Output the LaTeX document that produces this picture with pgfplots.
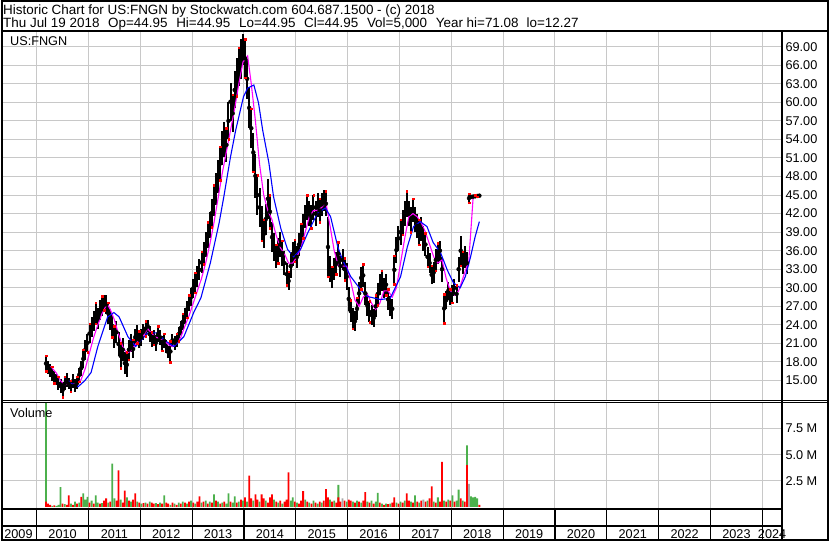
\documentclass[border=0pt]{standalone}
\usepackage{pgfplots}
\usepackage{pgfplotstable}
\usepackage{fontspec}
\setmainfont{Liberation Sans}
\pgfplotsset{compat=1.18}
\definecolor{gridgray}{HTML}{C8C8C8}
\definecolor{volgreen}{HTML}{4CB04C}
\definecolor{volgray}{HTML}{A8A8A8}
\definecolor{magline}{HTML}{FF00FF}
\definecolor{blueline}{HTML}{0000FF}
\newcommand\cf{\fontsize{12.7bp}{14bp}\selectfont}

\pgfplotstableread{
x lo hi
2010.18 16.5 19.0
2010.22 16.0 18.2
2010.26 15.6 17.6
2010.30 15.0 17.2
2010.34 14.6 16.6
2010.38 14.2 16.0
2010.42 13.4 15.6
2010.46 13.0 15.2
2010.50 12.3 14.6
2010.54 13.4 15.6
2010.58 14.0 16.2
2010.62 13.6 15.4
2010.66 13.2 15.0
2010.70 13.8 16.0
2010.74 13.2 15.2
2010.78 13.6 15.6
2010.82 14.8 17.0
2010.86 15.8 18.2
2010.90 17.0 20.0
2010.94 18.4 21.6
2010.98 19.6 22.6
2011.02 21.0 24.2
2011.06 22.0 25.2
2011.10 23.0 26.2
2011.14 24.2 27.6
2011.18 23.4 26.8
2011.22 24.8 28.0
2011.26 25.4 28.6
2011.30 26.4 28.9
2011.34 25.8 28.8
2011.38 24.2 27.6
2011.42 23.2 26.6
2011.46 22.0 25.6
2011.50 20.2 23.8
2011.54 21.0 24.6
2011.58 19.0 22.8
2011.62 17.0 21.0
2011.66 18.2 21.8
2011.70 16.0 19.6
2011.74 15.5 19.6
2011.78 18.4 21.6
2011.82 19.6 22.6
2011.86 18.6 21.6
2011.90 20.6 23.4
2011.94 21.0 24.0
2011.98 20.2 23.0
2012.02 20.6 23.4
2012.06 21.6 24.2
2012.10 22.2 24.6
2012.14 22.8 24.8
2012.18 21.2 23.8
2012.22 20.4 22.8
2012.26 20.8 23.2
2012.30 19.8 22.4
2012.34 21.2 23.8
2012.38 20.8 23.2
2012.42 19.8 22.2
2012.46 20.2 22.6
2012.50 19.4 21.6
2012.54 18.6 20.6
2012.58 18.0 21.4
2012.62 20.4 22.6
2012.66 20.0 22.2
2012.70 20.4 22.6
2012.74 21.4 23.6
2012.78 22.4 24.6
2012.82 23.2 25.8
2012.86 24.2 26.8
2012.90 25.2 27.8
2012.94 26.2 28.8
2012.98 27.0 30.0
2013.02 28.4 31.4
2013.06 29.2 32.4
2013.10 30.2 33.6
2013.14 31.2 34.6
2013.18 32.4 35.8
2013.22 33.8 37.4
2013.26 35.0 39.0
2013.30 36.4 40.6
2013.34 38.0 42.2
2013.38 39.8 44.4
2013.42 41.6 46.6
2013.46 43.4 48.6
2013.50 45.4 50.6
2013.54 47.4 52.8
2013.58 49.8 55.4
2013.62 51.2 56.8
2013.66 50.4 55.8
2013.70 54.0 60.0
2013.74 57.0 63.2
2013.78 55.2 61.2
2013.82 59.0 65.0
2013.86 61.0 67.2
2013.90 62.6 68.8
2013.94 63.8 70.2
2013.98 66.0 71.1
2014.02 64.0 70.2
2014.06 60.6 67.0
2014.10 55.8 62.4
2014.14 52.6 59.0
2014.18 48.8 55.0
2014.22 44.6 51.6
2014.26 41.8 48.2
2014.30 39.8 46.2
2014.34 37.6 43.2
2014.38 36.4 41.0
2014.42 38.6 43.6
2014.46 41.2 47.6
2014.50 39.6 45.0
2014.54 35.8 40.6
2014.58 34.4 38.8
2014.62 33.2 37.0
2014.66 34.0 38.0
2014.70 35.0 39.0
2014.74 33.6 37.6
2014.78 32.0 36.0
2014.82 30.4 34.0
2014.86 29.6 32.6
2014.90 31.6 35.4
2014.94 33.6 37.4
2014.98 34.2 37.8
2015.02 33.2 36.8
2015.06 35.2 38.8
2015.10 36.6 40.4
2015.14 38.0 42.0
2015.18 39.6 43.4
2015.22 41.0 45.0
2015.26 40.0 44.0
2015.30 39.6 43.4
2015.34 41.0 45.0
2015.38 40.0 44.0
2015.42 41.4 45.4
2015.46 40.6 44.4
2015.50 41.6 45.4
2015.54 42.4 45.8
2015.58 41.6 45.6
2015.62 31.8 41.4
2015.66 31.0 35.2
2015.70 30.0 33.4
2015.74 31.2 34.8
2015.78 32.2 35.8
2015.82 33.6 37.4
2015.86 31.8 35.2
2015.90 32.8 36.2
2015.94 31.2 34.8
2015.98 29.6 34.0
2016.02 26.2 30.2
2016.06 24.4 28.0
2016.10 23.4 26.8
2016.14 23.0 26.2
2016.18 24.8 28.4
2016.22 27.2 31.0
2016.26 29.8 33.4
2016.30 30.2 33.8
2016.34 27.2 31.0
2016.38 25.4 28.8
2016.42 24.4 27.8
2016.46 24.0 27.2
2016.50 23.6 26.6
2016.54 25.2 28.8
2016.58 27.2 30.8
2016.62 28.8 32.2
2016.66 29.4 32.8
2016.70 28.4 31.6
2016.74 28.8 32.2
2016.78 26.4 29.8
2016.82 25.4 28.6
2016.86 25.0 28.2
2016.90 30.6 35.2
2016.94 34.0 38.2
2016.98 36.0 40.0
2017.02 37.0 41.0
2017.06 38.6 42.6
2017.10 40.0 44.0
2017.14 41.4 45.6
2017.18 40.0 44.0
2017.22 39.0 43.0
2017.26 40.6 44.4
2017.30 39.0 43.0
2017.34 38.0 42.0
2017.38 37.0 41.0
2017.42 37.6 41.4
2017.46 36.0 40.0
2017.50 35.2 38.8
2017.54 33.4 36.6
2017.58 32.4 35.6
2017.62 30.6 33.6
2017.66 30.8 34.2
2017.70 32.8 36.2
2017.74 33.8 37.2
2017.78 34.4 37.6
2017.82 31.0 35.0
2017.86 24.3 29.0
2017.90 26.6 29.4
2017.94 28.0 31.0
2017.98 27.2 29.8
2018.02 27.6 30.4
2018.06 28.6 31.4
2018.10 27.6 30.4
2018.14 31.0 35.0
2018.18 33.6 38.4
2018.22 32.2 35.8
2018.26 33.2 36.8
2018.30 32.2 35.8
2018.34 43.8 45.2
2018.38 44.4 45.0
2018.42 44.5 45.0
2018.46 44.6 45.0
2018.50 44.7 45.0
2018.54 44.8 45.0
}\pricedata

\begin{document}
\begin{tikzpicture}
\begin{scope}[x=1bp,y=1bp]
\path[use as bounding box] (0,0) rectangle (830,543);
\fill[white] (0,0) rectangle (830,543);
\end{scope}

% ---------- price panel ----------
\begin{axis}[at={(2bp,143bp)}, anchor=south west, scale only axis,
  width=780bp, height=369bp,
  xmin=2009.35067, xmax=2024.37958, ymin=11.93, ymax=71.54,
  axis line style={draw=none}, tick style={draw=none},
  xtick={2010,...,2024}, xticklabels={},
  ytick={15,18,...,69},
  grid=major, major grid style={draw=gridgray, line width=1bp},
  yticklabel pos=right,
  yticklabel style={font=\cf, text=black, anchor=west},
  y tick label style={/pgf/number format/.cd, fixed, fixed zerofill, precision=2, assume math mode=true}]
\addplot[only marks, mark=none, forget plot,
  error bars/.cd, y dir=both, y explicit, error mark=none,
  error bar style={draw=black, line width=2bp, solid}]
  table[x=x, y expr={(\thisrow{lo}+\thisrow{hi})/2}, y error expr={(\thisrow{hi}-\thisrow{lo})/2}] \pricedata;
\addplot[only marks, mark=square*, mark size=0.75bp, red, each nth point=3, filter discard warning=false] table[x=x, y=hi] \pricedata;
\addplot[only marks, mark=square*, mark size=0.75bp, red, each nth point=4, filter discard warning=false] table[x=x, y=lo] \pricedata;
\addplot[magline, line width=1.1bp] coordinates {
(2010.27,17.3) (2010.38,16.2) (2010.46,15.0) (2010.54,14.3) (2010.62,14.5) (2010.70,14.6) (2010.78,14.4)
(2010.86,15.2) (2010.94,17.0) (2011.02,19.5) (2011.10,22.0) (2011.18,24.0) (2011.26,25.8) (2011.36,27.4)
(2011.42,26.5) (2011.50,24.8) (2011.58,22.5) (2011.66,20.5) (2011.74,19.4) (2011.82,19.8) (2011.90,20.8)
(2011.98,21.6) (2012.06,22.2) (2012.14,23.4) (2012.22,22.6) (2012.30,22.0) (2012.38,21.8) (2012.46,21.5)
(2012.54,20.8) (2012.62,20.5) (2012.70,21.0) (2012.78,22.0) (2012.86,23.8) (2012.94,25.5) (2013.02,27.5)
(2013.10,29.5) (2013.18,31.5) (2013.26,34.0) (2013.34,37.0) (2013.42,40.5) (2013.50,44.5) (2013.58,48.5)
(2013.66,52.0) (2013.74,55.5) (2013.82,59.0) (2013.90,63.0) (2013.98,66.5) (2014.07,67.5) (2014.14,63.0)
(2014.22,57.0) (2014.30,50.0) (2014.38,45.0) (2014.46,42.5) (2014.54,41.0) (2014.62,38.5) (2014.70,36.5)
(2014.78,35.5) (2014.86,34.0) (2014.94,34.0) (2015.02,35.0) (2015.10,36.5) (2015.18,39.0) (2015.26,41.5)
(2015.34,42.5) (2015.42,42.5) (2015.50,43.0) (2015.58,43.8) (2015.66,40.0) (2015.74,36.0) (2015.82,33.5)
(2015.90,33.5) (2015.98,33.5) (2016.06,31.0) (2016.14,28.0) (2016.22,27.0) (2016.30,28.5) (2016.38,29.0)
(2016.46,27.5) (2016.54,26.5) (2016.62,27.5) (2016.70,29.5) (2016.78,29.5) (2016.86,28.5) (2016.94,30.0)
(2017.02,34.0) (2017.10,38.0) (2017.18,41.5) (2017.26,42.0) (2017.34,41.5) (2017.42,40.5) (2017.50,39.0)
(2017.58,37.0) (2017.66,35.0) (2017.74,34.0) (2017.82,34.5) (2017.90,31.5) (2017.98,29.5) (2018.06,28.8)
(2018.14,29.5) (2018.22,31.5) (2018.30,33.5) (2018.33,33.6) (2018.42,44.6) (2018.47,44.8) (2018.56,44.9)};
\addplot[blueline, line width=1.1bp] coordinates {
(2010.53,15.5) (2010.67,14.6) (2010.80,14.0) (2010.93,15.0) (2011.05,16.3) (2011.18,20.5) (2011.37,25.3)
(2011.49,26.0) (2011.59,25.3) (2011.76,22.1) (2011.91,20.5) (2012.14,22.7) (2012.34,22.7) (2012.45,21.6)
(2012.65,20.5) (2012.84,22.1) (2013.03,26.0) (2013.17,28.4) (2013.35,34.0) (2013.52,40.5) (2013.61,44.7)
(2013.74,51.2) (2013.84,55.5) (2013.99,60.9) (2014.07,62.3) (2014.19,62.8) (2014.28,59.9) (2014.36,55.5)
(2014.48,50.2) (2014.57,44.7) (2014.71,39.6) (2014.84,36.2) (2014.96,35.0) (2015.09,36.2) (2015.23,38.9)
(2015.42,42.1) (2015.57,42.9) (2015.67,41.5) (2015.81,36.6) (2015.90,34.5) (2016.06,31.8) (2016.25,29.7)
(2016.38,28.6) (2016.63,28.1) (2016.82,28.3) (2017.02,31.8) (2017.15,36.6) (2017.27,39.9) (2017.40,40.7)
(2017.53,39.9) (2017.65,37.3) (2017.79,35.7) (2017.92,32.9) (2018.04,30.8) (2018.17,30.0) (2018.27,31.8)
(2018.37,35.0) (2018.46,38.3) (2018.54,40.7)};
\end{axis}

% ---------- volume panel ----------
\begin{axis}[at={(2bp,34.5bp)}, anchor=south west, scale only axis,
  width=780bp, height=105.5bp,
  xmin=2009.35067, xmax=2024.37958, ymin=-0.1, ymax=10,
  axis line style={draw=none}, tick style={draw=none},
  xtick={2010,...,2024}, xticklabels={},
  ytick={2.5,5,7.5}, yticklabels={2.5 M,5.0 M,7.5 M},
  grid=major, major grid style={draw=gridgray, line width=1bp},
  yticklabel pos=right,
  yticklabel style={font=\cf, text=black, anchor=west}]
\addplot[ybar, bar shift=0pt, bar width=1.8bp, fill=volgreen, draw=none] coordinates {
(2010.18,10.5) (2010.30,0.1) (2010.38,0.1) (2010.42,0.2) (2010.46,1.9) (2010.54,0.25) (2010.66,0.3)
(2010.74,0.5) (2010.82,0.4) (2010.90,1.3) (2010.94,0.7) (2010.98,0.95) (2011.06,0.6) (2011.14,1.1)
(2011.18,0.4) (2011.26,0.35) (2011.38,0.4) (2011.46,4.15) (2011.50,0.8) (2011.62,0.7) (2011.74,0.9)
(2011.82,0.5) (2011.94,0.5) (2012.02,0.3) (2012.10,0.4) (2012.18,0.5) (2012.30,0.35) (2012.38,0.4)
(2012.46,1.1) (2012.58,0.2) (2012.66,0.3) (2012.74,0.4) (2012.82,0.5) (2012.90,0.3) (2012.98,0.6)
(2013.06,0.3) (2013.18,0.4) (2013.26,0.6) (2013.34,0.5) (2013.42,1.2) (2013.50,0.5) (2013.58,0.4)
(2013.66,0.3) (2013.70,1.3) (2013.78,0.4) (2013.82,1.0) (2013.90,0.5) (2013.98,0.6) (2014.06,0.5)
(2014.18,0.6) (2014.30,0.5) (2014.42,0.6) (2014.58,0.7) (2014.66,0.4) (2014.74,0.3) (2014.90,0.6)
(2014.94,0.9) (2015.02,0.4) (2015.18,0.7) (2015.26,0.4) (2015.34,0.6) (2015.42,0.3) (2015.50,0.4)
(2015.66,0.7) (2015.74,0.6) (2015.82,2.1) (2015.98,0.5) (2016.10,0.5) (2016.18,0.6) (2016.26,0.4)
(2016.38,0.5) (2016.46,0.6) (2016.54,0.5) (2016.58,1.35) (2016.66,0.3) (2016.74,0.3) (2016.82,0.3)
(2016.94,0.4) (2017.02,0.5) (2017.10,0.6) (2017.22,0.5) (2017.30,1.1) (2017.38,0.4) (2017.54,0.6)
(2017.66,0.5) (2017.74,0.9) (2017.86,0.6) (2017.94,0.7) (2018.02,1.1) (2018.10,0.6) (2018.14,1.65)
(2018.22,0.6) (2018.30,5.9) (2018.38,1.0) (2018.42,0.9) (2018.46,0.95) (2018.50,0.8)};
\addplot[ybar, bar shift=0pt, bar width=1.8bp, fill=red, draw=none] coordinates {
(2010.18,0.5) (2010.22,0.3) (2010.26,0.2) (2010.34,0.15) (2010.50,0.3) (2010.58,0.2) (2010.62,1.1)
(2010.70,0.2) (2010.78,0.3) (2010.86,0.95) (2011.02,0.4) (2011.10,0.3) (2011.22,0.3) (2011.30,0.6)
(2011.34,0.8) (2011.42,0.5) (2011.54,0.6) (2011.58,3.5) (2011.66,0.4) (2011.70,1.55) (2011.78,0.6)
(2011.86,0.7) (2011.90,1.3) (2011.98,0.4) (2012.06,0.35) (2012.14,0.3) (2012.22,0.4) (2012.26,0.3)
(2012.34,0.25) (2012.42,0.3) (2012.50,0.4) (2012.54,0.3) (2012.62,0.4) (2012.70,0.2) (2012.78,0.3)
(2012.86,0.4) (2012.94,0.5) (2013.02,0.4) (2013.10,0.5) (2013.14,1.0) (2013.22,0.5) (2013.30,0.3)
(2013.38,0.4) (2013.46,0.6) (2013.54,0.3) (2013.62,0.5) (2013.74,0.5) (2013.86,0.4) (2013.94,0.7)
(2014.02,0.9) (2014.10,3.0) (2014.14,0.8) (2014.22,1.2) (2014.26,0.7) (2014.34,1.2) (2014.38,0.8)
(2014.46,0.4) (2014.50,0.9) (2014.54,1.2) (2014.62,0.5) (2014.70,0.6) (2014.78,0.5) (2014.82,0.7)
(2014.86,3.3) (2014.98,0.5) (2015.06,0.3) (2015.10,0.6) (2015.14,1.5) (2015.22,0.5) (2015.30,0.3)
(2015.38,0.4) (2015.46,0.5) (2015.54,0.6) (2015.58,1.7) (2015.62,0.9) (2015.70,0.5) (2015.78,0.4)
(2015.82,0.9) (2015.86,0.5) (2015.94,0.6) (2016.02,0.7) (2016.06,0.6) (2016.14,0.4) (2016.22,0.5)
(2016.30,0.6) (2016.34,1.4) (2016.42,0.4) (2016.50,0.3) (2016.62,0.4) (2016.70,0.2) (2016.78,0.25)
(2016.86,0.4) (2016.90,0.9) (2016.98,0.3) (2017.06,0.4) (2017.14,1.3) (2017.18,0.6) (2017.26,0.4)
(2017.34,0.5) (2017.42,0.6) (2017.50,0.5) (2017.58,0.8) (2017.62,1.95) (2017.70,0.4) (2017.78,0.5)
(2017.82,4.3) (2017.90,0.5) (2017.98,0.6) (2018.06,0.5) (2018.18,0.8) (2018.26,0.5) (2018.30,4.0)
(2018.54,0.2)};
\addplot[ybar, bar shift=0pt, bar width=1.8bp, fill=volgray, draw=none] coordinates {
(2015.90,0.8) (2017.46,0.7) (2018.34,2.2)};
\end{axis}

% ---------- frame and labels ----------
\begin{scope}[x=1bp,y=1bp]
\node[anchor=base west, inner sep=0pt] at (2,528) {\fontsize{13.45bp}{15bp}\selectfont Historic Chart for US:FNGN by Stockwatch.com 604.687.1500 - (c) 2018};
\node[anchor=base west, inner sep=0pt] at (2,515.3) {\fontsize{13.45bp}{15bp}\selectfont Thu Jul 19 2018\hspace*{8.7bp}Op=44.95\hspace*{8.7bp}Hi=44.95\hspace*{8.7bp}Lo=44.95\hspace*{8.7bp}Cl=44.95\hspace*{8.7bp}Vol=5,000\hspace*{8.7bp}Year hi=71.08\hspace*{8bp}lo=12.27};
\node[anchor=base west, inner sep=0pt, font=\cf] at (9,497) {US:FNGN};
\node[anchor=base west, inner sep=0pt, font=\cf] at (9,125) {Volume};

\draw[line width=2bp] (1,2) rectangle (828,542);
\draw[line width=2bp] (0,512) -- (829,512);
\draw[line width=2bp] (781.7,512) -- (781.7,2);
\draw[line width=1bp] (0,142.2) -- (829,142.2);
\draw[line width=1.5bp] (0,140.2) -- (829,140.2);
\draw[line width=2bp] (0,33.7) -- (781.7,33.7);
\draw[line width=2bp] (0,16.3) -- (781.7,16.3);
\foreach \k in {0,...,14} {
  \draw[line width=1.2bp] ({35.7+51.9*\k},33.7) -- ({35.7+51.9*\k},2);
}
\node[font=\cf, inner sep=0pt] at (17.5,8.5) {2009};
\foreach \k in {0,...,13} {
  \pgfmathtruncatemacro{\yr}{2010+\k}
  \node[font=\cf, inner sep=0pt] at ({35.7+51.9*\k+25.95},8.5) {\yr};
}
\node[font=\cf, inner sep=0pt] at (772,8.5) {2024};
\end{scope}
\end{tikzpicture}
\end{document}
